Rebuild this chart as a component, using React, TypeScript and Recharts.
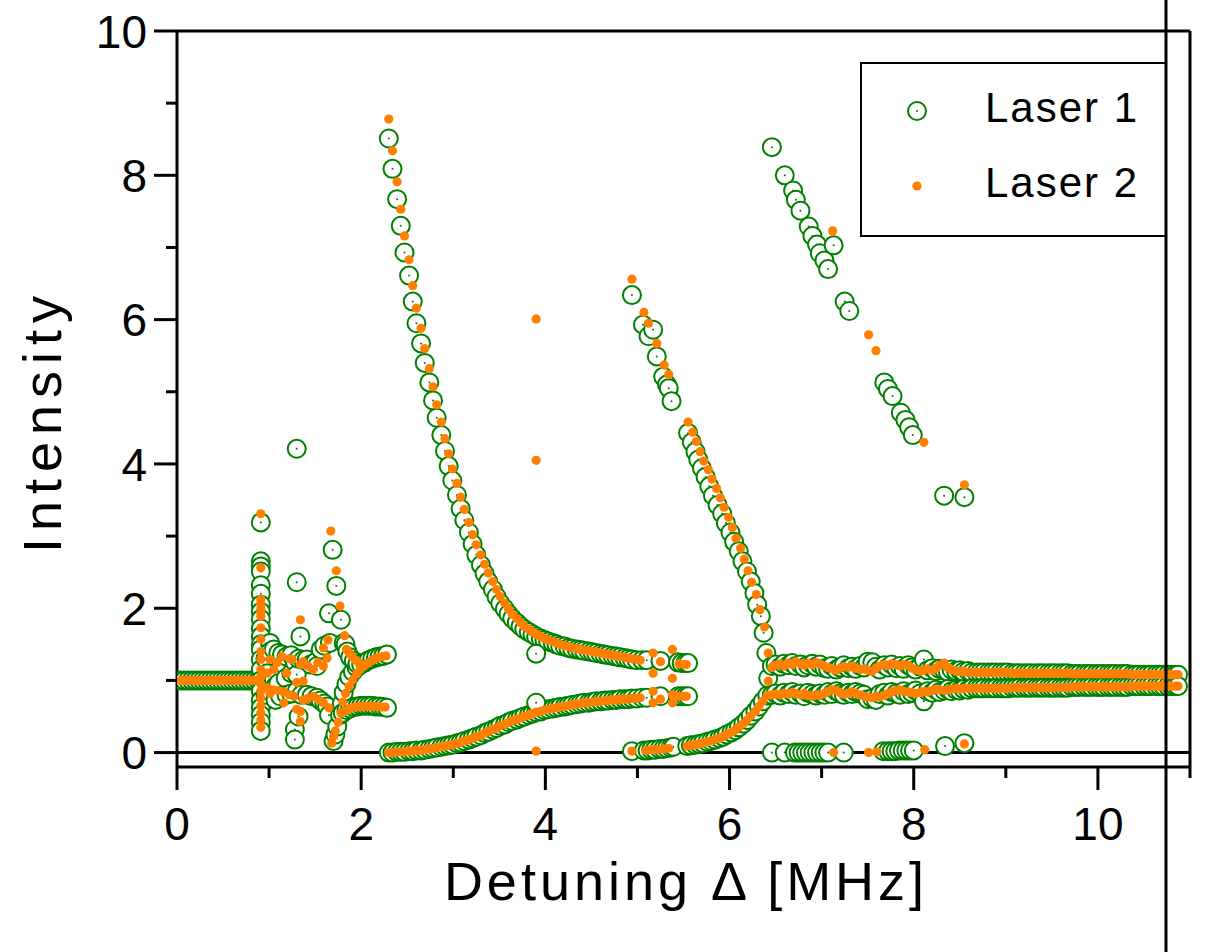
import { ReferenceLine, Scatter, ScatterChart, XAxis, YAxis } from "recharts";

type Pt = [number, number];

const seriesNames = ["Laser 1", "Laser 2"];
const xTicks = [0, 1, 2, 3, 4, 5, 6, 7, 8, 9, 10, 11];
const yTicks = [0, 1, 2, 3, 4, 5, 6, 7, 8, 9, 10];

// stable region below the first threshold, both lasers sit at 1
const flatX = [
  0.04, 0.08, 0.12, 0.16, 0.2, 0.24, 0.28, 0.32, 0.36, 0.4, 0.44,
  0.48, 0.52, 0.56, 0.6, 0.64, 0.68, 0.72, 0.76, 0.8, 0.84, 0.88,
];
const flatY = [
  1, 1, 1, 1, 1, 1, 1, 1, 1, 1, 1, 1, 1, 1, 1, 1, 1, 1, 1, 1, 1, 1,
];

// spread of values at the first threshold
const burst1: Pt[] = [
  [0.91, 3.19], [0.91, 2.65], [0.91, 2.58], [0.91, 2.51], [0.91, 2.32], [0.91, 2.2],
  [0.91, 2.05], [0.91, 1.95], [0.91, 1.85], [0.91, 1.72], [0.91, 1.61], [0.91, 1.5],
  [0.91, 1.43], [0.91, 1.29], [0.91, 1.15], [0.91, 1.0], [0.91, 0.85], [0.91, 0.72],
  [0.91, 0.62], [0.91, 0.52], [0.91, 0.42], [0.91, 0.3],
];
const burst2: Pt[] = [
  [0.91, 3.31], [0.91, 2.56], [0.91, 2.12], [0.91, 2.06], [0.91, 2.0], [0.91, 1.94],
  [0.91, 1.89], [0.91, 1.73], [0.91, 1.57], [0.91, 1.4], [0.91, 1.29], [0.91, 1.15],
  [0.91, 1.05], [0.91, 0.95], [0.91, 0.85], [0.91, 0.75], [0.91, 0.65], [0.91, 0.55],
  [0.91, 0.45], [0.91, 0.35],
];

// irregular region between 0.95 and 2.3 MHz
const chaos1: Pt[] = [
  [0.96, 1.3], [0.96, 0.8], [0.98, 1.1], [1.01, 1.52], [1.01, 1.4], [1.01, 0.85],
  [1.05, 1.43], [1.05, 1.02], [1.07, 0.92], [1.07, 0.73], [1.1, 1.38], [1.1, 0.96],
  [1.12, 0.78], [1.14, 1.36], [1.18, 1.03], [1.19, 1.33], [1.19, 0.8], [1.24, 1.35],
  [1.24, 1.1], [1.24, 0.82], [1.28, 1.25], [1.28, 0.32], [1.28, 0.18], [1.3, 4.21],
  [1.3, 2.36], [1.3, 1.08], [1.3, 0.85], [1.32, 1.3], [1.32, 0.5], [1.34, 1.61],
  [1.35, 0.8], [1.37, 1.28], [1.41, 1.29], [1.41, 0.8], [1.45, 1.22], [1.46, 0.78],
  [1.5, 1.25], [1.52, 1.2], [1.52, 0.76], [1.56, 1.43], [1.56, 0.72], [1.6, 1.48],
  [1.6, 0.68], [1.63, 0.64], [1.65, 1.93], [1.65, 0.52], [1.66, 1.52], [1.69, 2.81],
  [1.7, 0.16], [1.72, 0.25], [1.73, 2.31], [1.74, 0.36], [1.77, 0.52], [1.78, 1.84],
  [1.79, 0.68], [1.8, 0.55], [1.81, 1.52], [1.81, 0.83], [1.83, 1.5], [1.84, 0.95],
  [1.84, 0.59], [1.85, 1.4], [1.87, 1.05], [1.88, 1.32], [1.88, 0.61], [1.91, 1.12],
  [1.92, 1.27], [1.92, 0.63], [1.95, 1.18], [1.96, 1.23], [1.96, 0.64], [2.0, 1.22],
  [2.0, 0.65], [2.04, 1.25], [2.04, 0.65], [2.08, 1.28], [2.08, 0.65], [2.12, 1.3],
  [2.12, 0.65], [2.16, 1.32], [2.16, 0.64], [2.2, 1.33], [2.2, 0.64], [2.24, 1.34],
  [2.24, 0.63], [2.28, 1.36], [2.28, 0.62],
];
const chaos2: Pt[] = [
  [0.98, 1.1], [0.98, 0.9], [1.01, 1.29], [1.01, 0.82], [1.05, 1.15], [1.05, 0.87],
  [1.09, 1.25], [1.1, 0.86], [1.14, 1.33], [1.16, 0.84], [1.16, 0.69], [1.19, 1.1],
  [1.22, 1.3], [1.22, 0.8], [1.25, 1.29], [1.27, 0.78], [1.3, 0.97], [1.3, 0.6],
  [1.34, 1.84], [1.34, 1.22], [1.34, 0.57], [1.34, 0.43], [1.37, 1.26], [1.37, 0.99],
  [1.37, 0.73], [1.42, 1.2], [1.42, 0.75], [1.48, 1.15], [1.48, 0.78], [1.53, 1.25],
  [1.53, 0.74], [1.59, 1.2], [1.59, 1.45], [1.59, 0.69], [1.63, 1.31], [1.64, 1.56],
  [1.65, 0.62], [1.67, 3.07], [1.68, 0.13], [1.7, 0.22], [1.72, 0.3], [1.73, 2.52],
  [1.75, 0.42], [1.77, 2.03], [1.78, 0.55], [1.8, 0.7], [1.82, 1.62], [1.82, 0.57],
  [1.83, 0.82], [1.84, 1.43], [1.86, 0.6], [1.87, 1.38], [1.87, 0.92], [1.9, 1.33],
  [1.9, 0.62], [1.91, 1.01], [1.94, 1.28], [1.94, 0.63], [1.95, 1.09], [1.98, 1.24],
  [1.98, 0.64], [1.99, 1.15], [2.02, 1.21], [2.02, 0.64], [2.03, 1.2], [2.07, 1.24],
  [2.06, 0.64], [2.11, 1.27], [2.1, 0.64], [2.15, 1.3], [2.14, 0.64], [2.19, 1.32],
  [2.18, 0.64], [2.23, 1.33], [2.22, 0.63], [2.27, 1.34], [2.26, 0.63],
];

// first branch pair, 2.3 - 5.0 MHz
const branchAX = [
  2.3, 2.34, 2.39, 2.43, 2.47, 2.52, 2.56, 2.6, 2.65, 2.69,
  2.74, 2.78, 2.82, 2.87, 2.91, 2.95, 2.99, 3.04, 3.08, 3.12,
  3.17, 3.21, 3.25, 3.3, 3.34, 3.38, 3.43, 3.47, 3.51, 3.56,
  3.6, 3.64, 3.69, 3.73, 3.77, 3.82, 3.86, 3.9, 3.95, 3.99,
  4.03, 4.08, 4.12, 4.16, 4.21, 4.25, 4.29, 4.34, 4.38, 4.42,
  4.47, 4.51, 4.55, 4.6, 4.64, 4.68, 4.73, 4.77, 4.81, 4.86,
  4.9, 4.94, 4.99,
];
const branchAUpper1 = [
  8.51, 8.09, 7.67, 7.3, 6.93, 6.61, 6.25, 5.95, 5.67, 5.4,
  5.13, 4.88, 4.64, 4.4, 4.18, 3.97, 3.77, 3.57, 3.38, 3.22,
  3.05, 2.89, 2.74, 2.6, 2.48, 2.37, 2.26, 2.16, 2.07, 1.99,
  1.92, 1.86, 1.8, 1.75, 1.71, 1.67, 1.64, 1.61, 1.58, 1.56,
  1.54, 1.52, 1.5, 1.48, 1.47, 1.45, 1.44, 1.43, 1.42, 1.41,
  1.4, 1.39, 1.38, 1.37, 1.36, 1.35, 1.34, 1.33, 1.32, 1.31,
  1.3, 1.29, 1.28,
];
const branchAUpper2 = [
  8.78, 8.34, 7.91, 7.53, 7.16, 6.83, 6.47, 6.16, 5.88, 5.6,
  5.32, 5.07, 4.82, 4.58, 4.35, 4.14, 3.93, 3.73, 3.54, 3.37,
  3.19, 3.02, 2.88, 2.74, 2.61, 2.49, 2.37, 2.26, 2.16, 2.07,
  1.99, 1.92, 1.86, 1.8, 1.75, 1.71, 1.67, 1.64, 1.61, 1.58,
  1.56, 1.54, 1.52, 1.5, 1.48, 1.47, 1.45, 1.44, 1.43, 1.42,
  1.41, 1.4, 1.39, 1.38, 1.37, 1.36, 1.35, 1.34, 1.33, 1.32,
  1.31, 1.3, 1.29,
];
const branchALower = [
  0, 0, 0.01, 0.01, 0.01, 0.02, 0.02, 0.03, 0.03, 0.04,
  0.05, 0.06, 0.07, 0.08, 0.09, 0.1, 0.11, 0.13, 0.14, 0.16,
  0.18, 0.2, 0.22, 0.24, 0.27, 0.29, 0.32, 0.34, 0.37, 0.39,
  0.42, 0.44, 0.46, 0.48, 0.5, 0.52, 0.54, 0.56, 0.57, 0.59,
  0.6, 0.61, 0.62, 0.63, 0.64, 0.65, 0.66, 0.67, 0.68, 0.69,
  0.69, 0.7, 0.71, 0.71, 0.72, 0.72, 0.73, 0.73, 0.74, 0.74,
  0.74, 0.75, 0.75,
];

const spikes1: Pt[] = [[3.9, 1.37], [3.9, 0.69]];
const spikes2: Pt[] = [[3.9, 6.01], [3.9, 4.05], [3.9, 0.02]];

// short pieces between 5.0 and 5.55 MHz
const gapB1: Pt[] = [
  [5.05, 1.28], [5.1, 1.28], [5.25, 1.27], [5.44, 1.25], [5.48, 1.24], [5.52, 1.24],
  [5.55, 1.24], [5.05, 0.76], [5.1, 0.76], [5.25, 0.78], [5.44, 0.78], [5.48, 0.78],
  [5.52, 0.78], [5.55, 0.78],
];
const gapB2: Pt[] = [
  [5.03, 1.28], [5.17, 1.38], [5.17, 1.1], [5.25, 1.26], [5.38, 1.43], [5.38, 1.03],
  [5.45, 1.23], [5.5, 1.22], [5.53, 1.22], [5.03, 0.76], [5.17, 0.85], [5.17, 0.69],
  [5.25, 0.74], [5.38, 0.8], [5.38, 0.69], [5.45, 0.78], [5.5, 0.78], [5.53, 0.78],
];
const lowB1: Pt[] = [
  [4.94, 0.02], [5.07, 0.03], [5.11, 0.03], [5.15, 0.04], [5.19, 0.04],
  [5.24, 0.05], [5.28, 0.05], [5.32, 0.06], [5.36, 0.07], [5.39, 0.08],
];
const lowB2: Pt[] = [
  [4.94, 0.02], [5.09, 0.03], [5.15, 0.04], [5.21, 0.04], [5.28, 0.05], [5.34, 0.06],
];

// second branch pair, 4.9 - 6.45 MHz
const riseCX = [
  5.54, 5.58, 5.63, 5.67, 5.71, 5.76, 5.8, 5.84, 5.89, 5.93, 5.97,
  6.02, 6.06, 6.1, 6.15, 6.19, 6.23, 6.28, 6.32, 6.36, 6.41,
];
const riseCY = [
  0.09, 0.1, 0.11, 0.12, 0.13, 0.15, 0.16, 0.18, 0.2, 0.22, 0.25,
  0.28, 0.31, 0.35, 0.4, 0.45, 0.51, 0.57, 0.64, 0.71, 0.79,
];
const fallC1: Pt[] = [
  [4.94, 6.34], [5.06, 5.93], [5.12, 5.77], [5.17, 5.86], [5.21, 5.49], [5.28, 5.21],
  [5.32, 5.1], [5.34, 5.05], [5.37, 4.87], [5.55, 4.43], [5.59, 4.3], [5.63, 4.17],
  [5.66, 4.06], [5.7, 3.94], [5.74, 3.82], [5.78, 3.69], [5.82, 3.56], [5.87, 3.43],
  [5.92, 3.31], [5.96, 3.18], [6.01, 3.05], [6.05, 2.92], [6.1, 2.79], [6.14, 2.65],
  [6.19, 2.51], [6.23, 2.37], [6.27, 2.21], [6.3, 2.05], [6.34, 1.89], [6.37, 1.66],
  [6.4, 1.38], [6.42, 1.03],
];
const fallC2: Pt[] = [
  [4.94, 6.56], [5.07, 6.1], [5.12, 5.95], [5.21, 5.67], [5.29, 5.37], [5.34, 5.24],
  [5.55, 4.58], [5.6, 4.44], [5.64, 4.31], [5.68, 4.17], [5.72, 4.04], [5.77, 3.92],
  [5.81, 3.79], [5.86, 3.66], [5.9, 3.53], [5.94, 3.4], [5.99, 3.26], [6.03, 3.12],
  [6.07, 2.97], [6.12, 2.83], [6.16, 2.68], [6.2, 2.52], [6.24, 2.36], [6.29, 2.19],
  [6.33, 1.98], [6.38, 1.74], [6.42, 1.38], [6.42, 0.99],
];

// twin bands after 6.45 MHz, noisy part
const bandDX = [
  6.46, 6.5, 6.55, 6.59, 6.64, 6.68, 6.72, 6.77, 6.81, 6.85,
  6.9, 6.94, 6.98, 7.03, 7.07, 7.11, 7.16, 7.2, 7.24, 7.29,
  7.33, 7.37, 7.42, 7.46, 7.5, 7.55, 7.59, 7.63, 7.68, 7.72,
  7.76, 7.81, 7.85, 7.89, 7.94, 7.98, 8.02, 8.07, 8.11, 8.15,
  8.2, 8.24, 8.28, 8.33, 8.37, 8.41, 8.46, 8.5, 8.54, 8.59,
];
const bandDUpper1 = [
  1.2, 1.22, 1.19, 1.23, 1.21, 1.24, 1.2, 1.22, 1.18, 1.21,
  1.23, 1.19, 1.22, 1.17, 1.16, 1.2, 1.15, 1.18, 1.21, 1.17,
  1.19, 1.16, 1.2, 1.18, 1.26, 1.25, 1.19, 1.15, 1.21, 1.18,
  1.22, 1.17, 1.2, 1.16, 1.21, 1.18, 1.15, 1.19, 1.29, 1.14,
  1.17, 1.13, 1.16, 1.14, 1.12, 1.15, 1.13, 1.14, 1.12, 1.13,
];
const bandDLower1 = [
  0.8, 0.82, 0.79, 0.83, 0.81, 0.84, 0.8, 0.82, 0.78, 0.83,
  0.81, 0.79, 0.82, 0.8, 0.84, 0.81, 0.85, 0.82, 0.8, 0.83,
  0.81, 0.84, 0.82, 0.8, 0.74, 0.75, 0.73, 0.81, 0.83, 0.79,
  0.84, 0.82, 0.8, 0.85, 0.81, 0.83, 0.86, 0.82, 0.71, 0.85,
  0.83, 0.87, 0.84, 0.86, 0.88, 0.85, 0.87, 0.86, 0.88, 0.87,
];
const bandDUpper2 = [
  1.18, 1.21, 1.23, 1.2, 1.24, 1.22, 1.26, 1.23, 1.21, 1.24,
  1.22, 1.25, 1.23, 1.2, 1.18, 1.16, 1.14, 1.17, 1.19, 1.18,
  1.2, 1.17, 1.15, 1.16, 1.14, 1.13, 1.17, 1.2, 1.22, 1.21,
  1.23, 1.22, 1.2, 1.22, 1.21, 1.17, 1.15, 1.13, 1.14, 1.16,
  1.14, 1.17, 1.21, 1.24, 1.18, 1.15, 1.13, 1.12, 1.13, 1.11,
];
const bandDLower2 = [
  0.8, 0.81, 0.8, 0.82, 0.81, 0.83, 0.82, 0.8, 0.82, 0.79,
  0.78, 0.8, 0.79, 0.82, 0.85, 0.87, 0.86, 0.83, 0.81, 0.82,
  0.84, 0.82, 0.8, 0.78, 0.77, 0.76, 0.78, 0.77, 0.79, 0.82,
  0.84, 0.86, 0.87, 0.85, 0.84, 0.83, 0.82, 0.83, 0.85, 0.84,
  0.86, 0.88, 0.87, 0.86, 0.87, 0.88, 0.89, 0.88, 0.89, 0.89,
];

// twin bands, settled part up to the end of the scan
const bandEX = [
  8.63, 8.68, 8.72, 8.76, 8.81, 8.85, 8.89, 8.94, 8.98, 9.02,
  9.07, 9.11, 9.15, 9.2, 9.24, 9.28, 9.33, 9.37, 9.41, 9.46,
  9.5, 9.54, 9.59, 9.63, 9.67, 9.72, 9.76, 9.8, 9.85, 9.89,
  9.93, 9.98, 10.02, 10.06, 10.11, 10.15, 10.19, 10.24, 10.28, 10.32,
  10.37, 10.41, 10.45, 10.5, 10.54, 10.58, 10.63, 10.67, 10.71, 10.76,
  10.8, 10.84, 10.87,
];
const bandEUpper = [
  1.11, 1.11, 1.11, 1.11, 1.11, 1.11, 1.11, 1.11, 1.11, 1.11,
  1.1, 1.1, 1.1, 1.1, 1.1, 1.1, 1.1, 1.1, 1.1, 1.1,
  1.1, 1.1, 1.1, 1.1, 1.1, 1.09, 1.09, 1.09, 1.09, 1.09,
  1.09, 1.09, 1.09, 1.09, 1.09, 1.09, 1.09, 1.09, 1.09, 1.09,
  1.08, 1.08, 1.08, 1.08, 1.08, 1.08, 1.08, 1.08, 1.08, 1.08,
  1.08, 1.08, 1.08,
];
const bandELower = [
  0.89, 0.89, 0.89, 0.89, 0.89, 0.89, 0.89, 0.89, 0.89, 0.89,
  0.9, 0.9, 0.9, 0.9, 0.9, 0.9, 0.9, 0.9, 0.9, 0.9,
  0.9, 0.9, 0.9, 0.9, 0.9, 0.91, 0.91, 0.91, 0.91, 0.91,
  0.91, 0.91, 0.91, 0.91, 0.91, 0.91, 0.91, 0.91, 0.91, 0.91,
  0.92, 0.92, 0.92, 0.92, 0.92, 0.92, 0.92, 0.92, 0.92, 0.92,
  0.92, 0.92, 0.92,
];

// isolated values above and below the bands, 6.45 - 8.6 MHz
const highD1: Pt[] = [
  [6.46, 8.39], [6.6, 8.0], [6.69, 7.79], [6.72, 7.66], [6.77, 7.51], [6.86, 7.29],
  [6.9, 7.16], [6.95, 7.04], [6.98, 6.92], [7.03, 6.82], [7.07, 6.7], [7.13, 7.03],
  [7.25, 6.25], [7.3, 6.12], [7.68, 5.13], [7.72, 5.04], [7.77, 4.94], [7.86, 4.71],
  [7.91, 4.61], [7.95, 4.51], [7.99, 4.4], [8.33, 3.56], [8.55, 3.54],
];
const highD2: Pt[] = [
  [7.12, 7.23], [7.51, 5.79], [7.59, 5.57], [8.11, 4.3], [8.55, 3.71],
];
const lowD1: Pt[] = [
  [6.46, 0], [6.6, 0], [6.71, 0], [6.75, 0], [6.79, 0], [6.83, 0], [6.87, 0], [6.91, 0],
  [6.95, 0], [6.99, 0], [7.03, 0], [7.07, 0], [7.24, 0], [7.67, 0.02], [7.72, 0.02],
  [7.76, 0.02], [7.8, 0.02], [7.84, 0.03], [7.88, 0.03], [7.92, 0.03], [7.96, 0.03],
  [8.0, 0.03], [8.34, 0.09], [8.55, 0.13],
];
const lowD2: Pt[] = [
  [7.13, 0], [7.51, 0], [7.6, 0.01], [8.12, 0.04], [8.55, 0.12],
];

const pts = (list: Pt[]) => list.map(([x, y]) => ({ x, y }));
const zip = (xs: number[], ys: number[]) => xs.map((x, i) => ({ x, y: ys[i] }));

const laser1 = [
  ...zip(flatX, flatY),
  ...pts(burst1),
  ...pts(chaos1),
  ...zip(branchAX, branchAUpper1),
  ...zip(branchAX, branchALower),
  ...pts(spikes1),
  ...pts(lowB1),
  ...pts(gapB1),
  ...zip(riseCX, riseCY),
  ...pts(fallC1),
  ...zip(bandDX, bandDUpper1),
  ...zip(bandDX, bandDLower1),
  ...pts(lowD1),
  ...pts(highD1),
  ...zip(bandEX, bandEUpper),
  ...zip(bandEX, bandELower),
];

const laser2 = [
  ...zip(flatX, flatY),
  ...pts(burst2),
  ...pts(chaos2),
  ...zip(branchAX, branchAUpper2),
  ...zip(branchAX, branchALower),
  ...pts(spikes2),
  ...pts(lowB2),
  ...pts(gapB2),
  ...zip(riseCX, riseCY),
  ...pts(fallC2),
  ...zip(bandDX, bandDUpper2),
  ...zip(bandDX, bandDLower2),
  ...pts(lowD2),
  ...pts(highD2),
  ...zip(bandEX, bandEUpper),
  ...zip(bandEX, bandELower),
];

const GREEN = "#008000";
const ORANGE = "#ff8000";
const FONT = '"Liberation Sans", Arial, Helvetica, sans-serif';

function OpenCircle(props: any) {
  const { cx, cy } = props;
  if (cx == null || cy == null) return null;
  return (
    <g>
      <circle cx={cx} cy={cy} r={9} fill="#fff" stroke={GREEN} strokeWidth={2} />
      <circle cx={cx} cy={cy} r={1} fill={GREEN} />
    </g>
  );
}

function SolidDot(props: any) {
  const { cx, cy } = props;
  if (cx == null || cy == null) return null;
  return <circle cx={cx} cy={cy} r={4.6} fill={ORANGE} />;
}

function XTick({ x, y, payload }: any) {
  const v = payload.value as number;
  const major = v % 2 === 0;
  return (
    <g>
      <line x1={x} x2={x} y1={y} y2={y + (major ? 23 : 11)} stroke="#000" strokeWidth={3} />
      {major && (
        <text x={x} y={y + 73} textAnchor="middle" fontSize={46} fontFamily={FONT} fill="#000">
          {v}
        </text>
      )}
    </g>
  );
}

function YTick({ x, y, payload }: any) {
  const v = payload.value as number;
  const major = v % 2 === 0;
  return (
    <g>
      <line x1={x - (major ? 23 : 11)} x2={x} y1={y} y2={y} stroke="#000" strokeWidth={3} />
      {major && (
        <text x={x - 30} y={y} dy="0.36em" textAnchor="end" fontSize={46} fontFamily={FONT} fill="#000">
          {v}
        </text>
      )}
    </g>
  );
}

function XTitle() {
  return (
    <text x={686} y={900} textAnchor="middle" fontSize={54} fontFamily={FONT} fill="#000" style={{ letterSpacing: 4 }}>
      Detuning Δ [MHz]
    </text>
  );
}

function YTitle() {
  return (
    <text
      x={61}
      y={421}
      transform="rotate(-90 61 421)"
      textAnchor="middle"
      fontSize={54}
      fontFamily={FONT}
      fill="#000"
      style={{ letterSpacing: 7 }}
    >
      Intensity
    </text>
  );
}

function LegendBox() {
  return (
    <svg width={1205} height={952} style={{ position: "absolute", left: 0, top: 0, pointerEvents: "none" }}>
      <rect x={861} y={63} width={305} height={173} fill="#fff" stroke="#000" strokeWidth={2} />
      <OpenCircle cx={917} cy={111} />
      <SolidDot cx={917} cy={186} />
      <text x={985} y={122} fontSize={42} fontFamily={FONT} fill="#000" style={{ letterSpacing: 2 }}>
        {seriesNames[0]}
      </text>
      <text x={985} y={197} fontSize={42} fontFamily={FONT} fill="#000" style={{ letterSpacing: 2 }}>
        {seriesNames[1]}
      </text>
      <line x1={1166} x2={1166} y1={0} y2={952} stroke="#000" strokeWidth={3} />
    </svg>
  );
}

export default function App() {
  return (
    <div style={{ position: "absolute", left: 0, top: 0, width: 1205, height: 952, background: "#fff" }}>
      <ScatterChart width={1205} height={952} margin={{ top: 31, right: 15, bottom: 85, left: 0 }}>
        <XAxis
          type="number"
          dataKey="x"
          domain={[0, 11]}
          ticks={xTicks}
          interval={0}
          height={100}
          tickSize={0}
          tickMargin={0}
          tickLine={false}
          axisLine={{ stroke: "#000", strokeWidth: 3 }}
          tick={<XTick />}
          label={<XTitle />}
          allowDataOverflow
        />
        <YAxis
          type="number"
          dataKey="y"
          domain={[-0.2, 10]}
          ticks={yTicks}
          interval={0}
          width={177}
          tickSize={0}
          tickMargin={0}
          tickLine={false}
          axisLine={{ stroke: "#000", strokeWidth: 3 }}
          tick={<YTick />}
          label={<YTitle />}
          allowDataOverflow
        />
        <ReferenceLine y={0} stroke="#000" strokeWidth={3} />
        <ReferenceLine y={10} stroke="#000" strokeWidth={3} />
        <ReferenceLine x={11} stroke="#000" strokeWidth={3} />
        <Scatter name={seriesNames[0]} data={laser1} shape={<OpenCircle />} isAnimationActive={false} />
        <Scatter name={seriesNames[1]} data={laser2} shape={<SolidDot />} isAnimationActive={false} />
      </ScatterChart>
      <LegendBox />
    </div>
  );
}
